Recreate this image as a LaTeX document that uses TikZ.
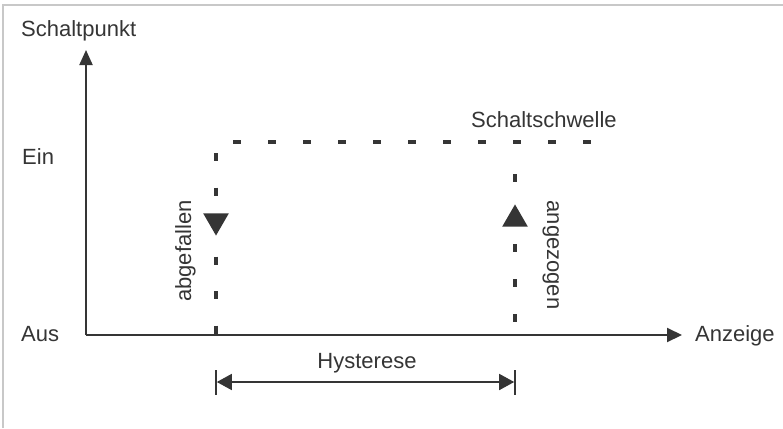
\documentclass[tikz,border=0pt]{standalone}
\usepackage{fontspec}
\setmainfont{Liberation Sans}
\usetikzlibrary{arrows.meta,shapes.geometric}
\definecolor{ink}{HTML}{353535}
\definecolor{frame}{HTML}{C8C8C8}
\begin{document}
\begin{tikzpicture}[x=1pt,y=-1pt,
  lbl/.style={inner sep=0pt,font=\fontsize{22}{24}\selectfont,text=ink},
  axis/.style={draw=ink,line width=2pt},
  dots/.style={draw=ink,line width=3.6pt},
  tri/.style={regular polygon,regular polygon sides=3,fill=ink,draw=none,inner sep=0pt,minimum size=29.5pt}]
\useasboundingbox (0,0) rectangle (783,428);
\fill[white] (0,0) rectangle (783,428);
\draw[frame,line width=1.2pt] (3,428) -- (3,5) -- (783,5);
% axes
\coordinate (O) at (86,335);
\coordinate (ytip) at (86,50);
\coordinate (xtip) at (682,335);
\draw[axis,-{Triangle[length=15pt,width=13pt]}] (O) -- (ytip);
\draw[axis,-{Triangle[length=15pt,width=14pt]}] (O) -- (xtip);
% labels
\node[lbl,anchor=base west] (schaltpunkt) at (21,37) {Schaltpunkt};
\node[lbl,anchor=base west] (ein) at (22,164) {Ein};
\node[lbl,anchor=base west] (aus) at (21,341) {Aus};
\node[lbl,anchor=base west] (anzeige) at (695,341) {Anzeige};
\node[lbl,anchor=base west] (schwelle) at (471,127) {Schaltschwelle};
% dotted threshold lines
\coordinate (h1) at (233,142);
\coordinate (h2) at (593,142);
\draw[dots,dash pattern=on 8pt off 27pt] (h1) -- (h2);
\coordinate (l1) at (216,153);
\coordinate (l2) at (216,335);
\draw[dots,dash pattern=on 8pt off 26.5pt] (l1) -- (l2);
\coordinate (r1) at (515,174);
\coordinate (r2) at (515,322);
\draw[dots,dash pattern=on 8pt off 27pt] (r1) -- (r2);
% triangles
\node[tri,shape border rotate=180] (down) at (216,220.8) {};
\node[tri] (up) at (515,219.2) {};
\node[lbl,rotate=90,anchor=base] (abgefallen) at (191,251) {abgefallen};
\node[lbl,rotate=-90,anchor=base] (angezogen) at (547,255) {angezogen};
% hysteresis
\coordinate (hl) at (216,382);
\coordinate (hr) at (515,382);
\draw[ink,line width=1.6pt] (216,370) -- (216,395);
\draw[ink,line width=1.6pt] (515,370) -- (515,395);
\draw[ink,line width=1.6pt,{Triangle[length=15pt,width=16pt]}-{Triangle[length=15pt,width=16pt]},shorten <=0.8pt,shorten >=0.8pt] (hl) -- (hr);
\node[lbl,anchor=base] (hyst) at (367,368) {Hysterese};
\end{tikzpicture}
\end{document}
